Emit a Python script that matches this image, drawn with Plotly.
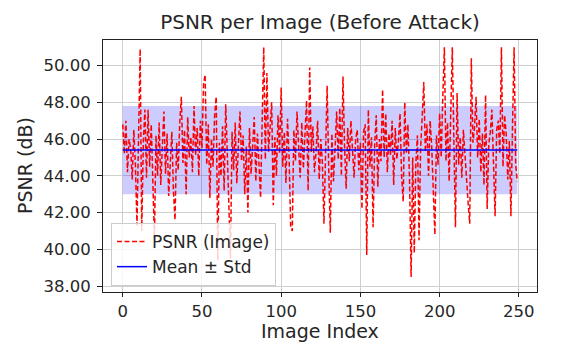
import plotly.graph_objects as go

# PSNR value per image (dB)
psnr_values = [
    46.8, 45.2, 47.0, 44.2, 46.0, 45.5, 43.8, 46.5, 44.6, 41.3,
    46.2, 50.9, 41.0, 45.8, 47.6, 43.9, 47.6, 44.5, 46.8, 43.2,
    40.6, 46.2, 44.0, 46.9, 43.5, 45.6, 47.5, 44.1, 46.3, 42.9,
    45.0, 46.4, 43.2, 41.6, 45.8, 44.3, 46.9, 48.3, 44.7, 46.5,
    43.0, 47.2, 45.0, 46.1, 44.2, 47.8, 45.1, 46.6, 44.0, 47.0,
    45.5, 49.0, 49.5, 44.6, 46.8, 42.8, 46.0, 44.5, 47.3, 48.3,
    39.4, 45.8, 44.0, 46.7, 43.2, 47.9, 45.2, 42.5, 39.5, 46.4,
    44.3, 46.9, 43.6, 45.7, 47.5, 44.8, 46.2, 43.0, 45.6, 42.0,
    46.6, 44.1, 45.8, 47.2, 43.7, 46.3, 44.6, 42.8, 47.0, 51.0,
    44.9, 49.6, 45.3, 46.8, 48.0, 42.4, 46.1, 44.0, 47.3, 45.2,
    48.8, 44.5, 46.4, 43.6, 47.1, 45.0, 41.2, 41.0, 46.5, 44.8,
    47.5, 45.6, 43.9, 46.9, 44.4, 46.2, 48.1, 43.2, 49.9, 45.3,
    46.7, 44.2, 45.3, 47.0, 43.8, 46.0, 44.7, 41.4, 45.9, 48.9,
    44.4, 40.9, 46.3, 43.7, 45.5, 47.5, 44.9, 47.7, 44.0, 49.4,
    45.6, 43.3, 46.6, 44.8, 47.0, 45.1, 43.9, 46.0, 46.5, 44.3,
    45.8, 42.2, 46.4, 46.8, 39.7, 47.6, 44.5, 46.1, 41.2, 45.7,
    47.3, 43.4, 46.0, 44.8, 48.7, 45.0, 47.4, 44.2, 46.3, 45.1,
    47.0, 43.5, 46.6, 44.9, 45.9, 47.4, 44.0, 42.6, 48.0, 45.2,
    46.8, 43.8, 38.5, 45.0, 39.8, 44.7, 46.2, 40.5, 45.5, 47.2,
    49.1, 45.3, 46.8, 44.0, 47.0, 45.6, 43.1, 40.8, 46.2, 44.6,
    47.4, 45.0, 48.3, 51.0, 44.8, 46.9, 43.7, 47.8, 51.0, 45.9,
    41.2, 48.5, 44.6, 46.1, 43.9, 46.5, 45.0, 44.1, 42.5, 41.4,
    50.4, 45.8, 46.6, 48.3, 45.0, 47.1, 44.2, 46.3, 43.5, 48.4,
    42.2, 45.7, 46.4, 47.6, 44.0, 41.8, 46.5, 47.0, 45.2, 51.0,
    44.5, 47.3, 46.3, 43.8, 45.9, 41.8, 46.7, 51.0, 44.6, 43.7,
]
image_index = list(range(len(psnr_values)))

# Mean and standard deviation shown by the band
mean_psnr = 45.4
std_psnr = 2.4

y_ticks = [38, 40, 42, 44, 46, 48, 50]
y_tick_labels = [f"{v:.2f}" for v in y_ticks]
x_ticks = [0, 50, 100, 150, 200, 250]

FONT = "DejaVu Sans"
TXT = "#262626"
L, R, T, B = 103, 537, 40, 292
W, H = 576, 343

fig = go.Figure()

# Std band
fig.add_trace(go.Scatter(
    x=image_index, y=[mean_psnr + std_psnr] * len(image_index),
    mode="lines", line=dict(width=0), hoverinfo="skip", showlegend=False,
))
fig.add_trace(go.Scatter(
    x=image_index, y=[mean_psnr - std_psnr] * len(image_index),
    mode="lines", line=dict(width=0), fill="tonexty",
    fillcolor="rgba(0,0,255,0.2)", hoverinfo="skip", showlegend=False,
))

fig.add_trace(go.Scatter(
    x=image_index, y=psnr_values, mode="lines", name="PSNR (Image)",
    line=dict(color="#ff0000", width=1.5, dash="5px,2.5px"),
))
fig.add_trace(go.Scatter(
    x=image_index, y=[mean_psnr] * len(image_index), mode="lines",
    name="Mean ± Std", line=dict(color="#0000ff", width=1.5),
))

pw, ph = R - L, B - T

fig.update_layout(
    width=W, height=H,
    margin=dict(l=L, r=W - R, t=T, b=H - B, autoexpand=False),
    paper_bgcolor="white", plot_bgcolor="white",
    font=dict(family=FONT, size=16.5, color=TXT),
    title=dict(text="PSNR per Image (Before Attack)", x=(L + R) / 2 / W,
               xanchor="center", y=1 - 22 / H, yanchor="middle",
               font=dict(size=20, color=TXT)),
    showlegend=True,
    legend=dict(x=8 / pw, y=6 / ph, xanchor="left", yanchor="bottom",
                bgcolor="rgba(255,255,255,0.8)", bordercolor="#cccccc",
                borderwidth=1, font=dict(size=17, color=TXT),
                traceorder="normal", tracegroupgap=0),
    annotations=[
        dict(text="Image Index", xref="paper", yref="paper",
             x=0.5, y=-(331 - B) / ph, xanchor="center", yanchor="middle",
             showarrow=False, font=dict(size=19, color=TXT)),
        dict(text="PSNR (dB)", xref="paper", yref="paper",
             x=-(L - 25) / pw, y=0.5, xanchor="center", yanchor="middle",
             textangle=-90, showarrow=False, font=dict(size=19, color=TXT)),
    ],
)

fig.update_xaxes(
    range=[-12.45, 261.45], tickvals=x_ticks, ticktext=[str(v) for v in x_ticks],
    showgrid=True, gridcolor="#cfcfcf", gridwidth=1,
    showline=True, linecolor="#222222", linewidth=1, mirror=True,
    ticks="outside", ticklen=4, tickcolor="#222222",
    zeroline=False, automargin=False,
)
fig.update_yaxes(
    range=[37.68, 51.39], tickvals=y_ticks, ticktext=y_tick_labels,
    showgrid=True, gridcolor="#cfcfcf", gridwidth=1,
    showline=True, linecolor="#222222", linewidth=1, mirror=True,
    ticks="outside", ticklen=5, tickcolor="#222222",
    zeroline=False, automargin=False, ticklabelstandoff=3,
)

fig.write_html(
    "out.html",
    config={"displayModeBar": False},
    post_script="document.body.style.margin='0';document.body.style.overflow='hidden';",
)
